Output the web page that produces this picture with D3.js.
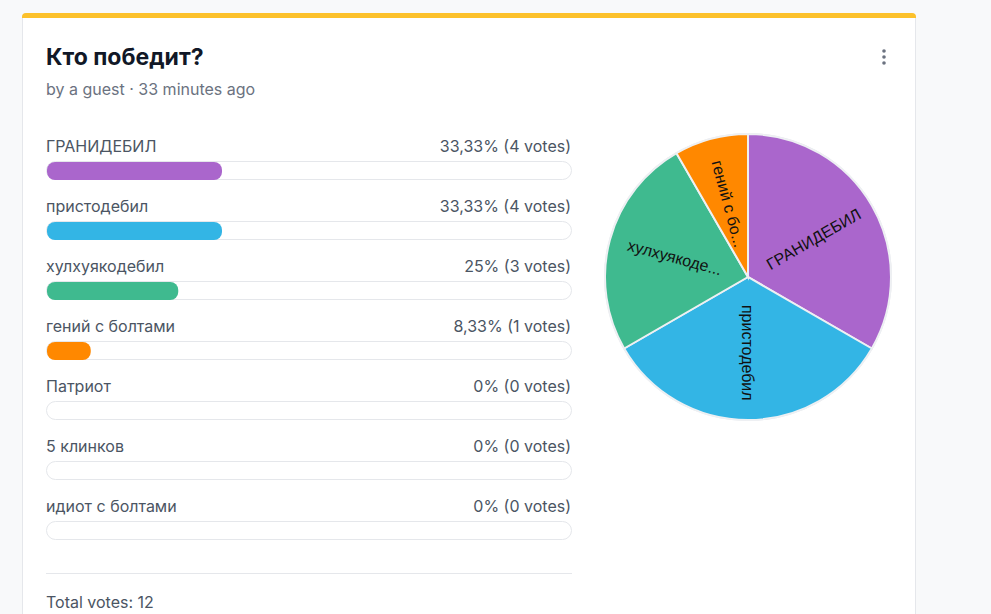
<!DOCTYPE html>
<html>
<head>
<meta charset="utf-8">
<script src="https://cdn.jsdelivr.net/npm/d3@7"></script>
<style>
  html, body { margin: 0; padding: 0; background: #f8f9fa; overflow: hidden; }
  svg { display: block; }
</style>
</head>
<body>
<div id="chart"></div>
<script>
var title = "Кто победит?";
var subtitle = "by a guest · 33 minutes ago";
var options = ["ГРАНИДЕБИЛ", "пристодебил", "хулхуякодебил", "гений с болтами", "Патриот", "5 клинков", "идиот с болтами"];
var votes = [4, 4, 3, 1, 0, 0, 0];
var percentLabels = ["33,33%", "33,33%", "25%", "8,33%", "0%", "0%", "0%"];
var colors = ["#aa66cc", "#33b5e5", "#3fba8f", "#ff8800", "#9ca3af", "#9ca3af", "#9ca3af"];

var W = 991, H = 614;
var total = d3.sum(votes);

var svg = d3.select("#chart").append("svg").attr("width", W).attr("height", H);

// card
var card = svg.append("g");
card.append("rect").attr("x", 22.5).attr("y", 13.5).attr("width", 893).attr("height", 640)
  .attr("rx", 4).attr("fill", "#fff").attr("stroke", "#e5e7eb");
card.append("path").attr("d", "M22,18 L22,17 Q22,13 26,13 L912,13 Q916,13 916,17 L916,18 Z").attr("fill", "#fcc12b");

svg.append("text").attr("x", 46).attr("y", 65).text(title)
  .style("font-family", "Inter").style("font-weight", 700).style("font-size", "23px").attr("fill", "#111827");
svg.append("text").attr("x", 46).attr("y", 95).text(subtitle)
  .style("font-family", "Inter").style("font-size", "16px").attr("fill", "#6b7280");

// menu dots
svg.selectAll("circle.dot").data([0, 1, 2]).enter().append("circle")
  .attr("cx", 884).attr("cy", function(d) { return 51 + d * 6; }).attr("r", 1.8).attr("fill", "#6b7280");

// bars
var x = d3.scaleLinear().domain([0, 1]).range([0, 525]);
var y = d3.scaleBand().domain(d3.range(options.length)).range([131, 551]);

var rows = svg.selectAll("g.row").data(options).enter().append("g")
  .attr("transform", function(d, i) { return "translate(46," + y(i) + ")"; });
rows.append("text").attr("x", 0).attr("y", 20.5).text(function(d) { return d; })
  .style("font-family", "Inter").style("font-size", "16px").attr("fill", "#4b5563");
rows.append("text").attr("x", 525).attr("y", 20.5).attr("text-anchor", "end")
  .text(function(d, i) { return percentLabels[i] + " (" + votes[i] + " votes)"; })
  .style("font-family", "Inter").style("font-size", "16px").attr("fill", "#4b5563");
rows.append("rect").attr("x", 0.5).attr("y", 30.5).attr("width", x(1)).attr("height", 18).attr("rx", 9)
  .attr("fill", "#fff").attr("stroke", "#e5e7eb");
rows.filter(function(d, i) { return votes[i] > 0; }).append("rect")
  .attr("x", 1).attr("y", 31).attr("height", 18).attr("rx", 8)
  .attr("width", function(d, i) { return x(votes[i] / total); })
  .attr("fill", function(d, i) { return colors[i]; });

svg.append("line").attr("x1", 46).attr("x2", 572).attr("y1", 573.5).attr("y2", 573.5).attr("stroke", "#e5e7eb");
svg.append("text").attr("x", 46).attr("y", 608).text("Total votes: " + total)
  .style("font-family", "Inter").style("font-size", "16px").attr("fill", "#4b5563");

// pie
var cx = 748, cy = 277, r = 143;
var pieData = d3.pie().sort(null).value(function(d) { return d; })(votes).filter(function(d) { return d.value > 0; });
var arc = d3.arc().innerRadius(0).outerRadius(r);
var pg = svg.append("g").attr("transform", "translate(" + cx + "," + cy + ")");
pg.append("circle").attr("r", r + 1).attr("fill", "#e5e7eb");
pg.selectAll("path").data(pieData).enter().append("path")
  .attr("d", arc).attr("fill", function(d) { return colors[d.index]; })
  .attr("stroke", "#eef0f3").attr("stroke-width", 2);

function shortName(s) { return s.length > 12 ? s.slice(0, 10) + "..." : s; }
pg.selectAll("text").data(pieData).enter().append("text")
  .attr("transform", function(d) {
    var a = (d.startAngle + d.endAngle) / 2;
    var lr = r * 0.53;
    var px = Math.sin(a) * lr, py = -Math.cos(a) * lr;
    var rot = a * 180 / Math.PI - 90;
    if (rot > 90) rot -= 180;
    return "translate(" + px + "," + py + ") rotate(" + rot + ")";
  })
  .attr("text-anchor", "middle").attr("dy", "0.35em")
  .text(function(d) { return shortName(options[d.index]); })
  .style("font-family", "Liberation Sans").style("font-size", "16px").attr("fill", "#111");
</script>
</body>
</html>
